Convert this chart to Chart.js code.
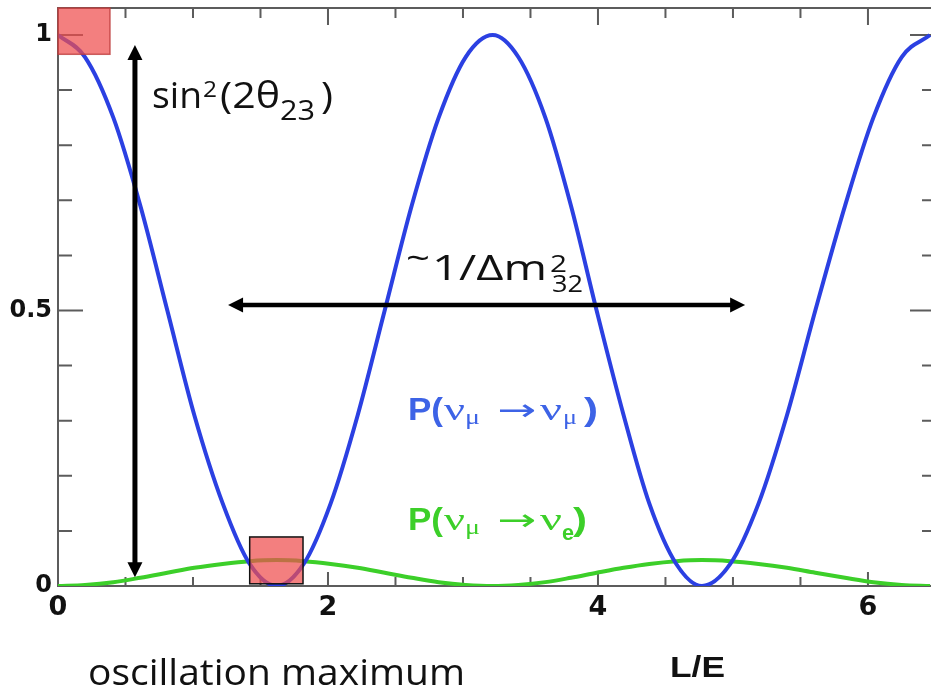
<!DOCTYPE html>
<html>
<head>
<meta charset="utf-8">
<script src="https://cdn.jsdelivr.net/npm/chart.js@4.4.1/dist/chart.umd.min.js"></script>
<style>
  html, body { margin: 0; padding: 0; background: #fff; }
</style>
</head>
<body>
<canvas id="grafica" width="931" height="690"></canvas>
<script>
// valores (L/E y probabilidades)
const lOverE = [0, 0.20, 0.41, 0.61, 0.81, 1.01, 1.22, 1.42, 1.62,
  1.82, 2.02, 2.22, 2.42, 2.62, 2.82, 3.02, 3.22,
  3.41, 3.61, 3.80, 3.99, 4.19, 4.38, 4.58, 4.77,
  4.98, 5.19, 5.40, 5.61, 5.83, 6.04, 6.25, 6.46];
const probMuMu = [1, 0.96, 0.85, 0.69, 0.50, 0.31, 0.15, 0.04, 0,
  0.04, 0.15, 0.31, 0.50, 0.69, 0.85, 0.96, 1,
  0.96, 0.85, 0.69, 0.50, 0.31, 0.15, 0.04, 0,
  0.04, 0.15, 0.31, 0.50, 0.69, 0.85, 0.96, 1];
const probMuE = [0, 0.002, 0.007, 0.015, 0.024, 0.033, 0.040, 0.045, 0.047,
  0.045, 0.040, 0.033, 0.024, 0.015, 0.007, 0.002, 0,
  0.002, 0.007, 0.015, 0.024, 0.033, 0.040, 0.045, 0.047,
  0.045, 0.040, 0.033, 0.024, 0.015, 0.007, 0.002, 0];
const xTickLabels = ['0', '2', '4', '6'];
const yTickLabels = ['0', '0.5', '1'];

const AZUL = '#2b40e2';
const VERDE = '#3ccf29';

function puntos(ys) {
  return lOverE.map((v, i) => ({ x: v, y: ys[i] }));
}

// dibuja un trozo de texto estirado al ancho que tiene en la figura
function pieza(ctx, t, fuente, x, y, ancho) {
  ctx.font = fuente;
  const w = ctx.measureText(t).width;
  ctx.save();
  ctx.translate(x, y);
  ctx.scale(ancho / w, 1);
  ctx.fillText(t, 0, 0);
  ctx.restore();
}

function punta(ctx, x, y, ang, largo, ancho) {
  ctx.save();
  ctx.translate(x, y);
  ctx.rotate(ang);
  ctx.beginPath();
  ctx.moveTo(0, 0);
  ctx.lineTo(-largo, -ancho / 2);
  ctx.lineTo(-largo, ancho / 2);
  ctx.closePath();
  ctx.fill();
  ctx.restore();
}

function flecha(ctx, x1, y1, x2, y2, grosor) {
  const ang = Math.atan2(y2 - y1, x2 - x1);
  const largo = 15, ancho = 15;
  ctx.lineWidth = grosor;
  ctx.beginPath();
  ctx.moveTo(x1 + Math.cos(ang) * (largo - 2), y1 + Math.sin(ang) * (largo - 2));
  ctx.lineTo(x2 - Math.cos(ang) * (largo - 2), y2 - Math.sin(ang) * (largo - 2));
  ctx.stroke();
  punta(ctx, x2, y2, ang, largo, ancho);
  punta(ctx, x1, y1, ang + Math.PI, largo, ancho);
}

const decoraciones = {
  id: 'decoraciones',
  beforeDatasetsDraw(chart) {
    const { ctx, chartArea: a, scales: { x, y } } = chart;
    ctx.save();
    ctx.strokeStyle = '#5c5c5c';
    ctx.lineWidth = 2;
    ctx.beginPath();
    ctx.moveTo(a.left, a.top);
    ctx.lineTo(a.right, a.top);
    ctx.stroke();
    // marcas hacia dentro
    ctx.beginPath();
    for (let i = 0; i <= 12; i++) {
      const px = x.getPixelForValue(i / 2);
      const mayor = i % 4 === 0;
      ctx.moveTo(px, a.bottom);
      ctx.lineTo(px, a.bottom - (mayor ? 14 : 9));
      ctx.moveTo(px, a.top);
      ctx.lineTo(px, a.top + (mayor ? 17 : 10));
    }
    for (let i = 0; i <= 10; i++) {
      const py = y.getPixelForValue(i / 10);
      const mayor = i % 5 === 0;
      ctx.moveTo(a.left, py);
      ctx.lineTo(a.left + (mayor ? 25 : 14), py);
      ctx.moveTo(a.right, py);
      ctx.lineTo(a.right - (mayor ? 21 : 9), py);
    }
    ctx.stroke();
    ctx.restore();
  },
  afterDatasetsDraw(chart) {
    const { ctx, scales: { x, y } } = chart;
    ctx.save();
    // recuadros rojos
    const caja = (x0, x1, y0, y1, borde) => {
      const l = x.getPixelForValue(x0), r = x.getPixelForValue(x1);
      const t = y.getPixelForValue(y1), b = y.getPixelForValue(y0);
      ctx.fillStyle = 'rgba(238, 78, 78, 0.72)';
      ctx.fillRect(l, t, r - l, b - t);
      ctx.strokeStyle = borde;
      ctx.lineWidth = 1.5;
      ctx.strokeRect(l, t, r - l, b - t);
    };
    caja(0, 0.385, 0.965, 1.049, 'rgba(190, 60, 60, 0.8)');
    caja(1.42, 1.815, 0.004, 0.089, '#111');

    // flechas
    ctx.fillStyle = '#000';
    ctx.strokeStyle = '#000';
    flecha(ctx, x.getPixelForValue(0.57), y.getPixelForValue(0.016),
      x.getPixelForValue(0.57), y.getPixelForValue(0.982), 5);
    flecha(ctx, x.getPixelForValue(1.26), y.getPixelForValue(0.51),
      x.getPixelForValue(5.09), y.getPixelForValue(0.51), 4.5);

    // textos
    ctx.textBaseline = 'alphabetic';
    ctx.fillStyle = '#111';
    const sans = '"Open Sans"';
    pieza(ctx, 'sin', '37px ' + sans, 152, 108, 50);
    pieza(ctx, '2', '22px ' + sans, 203, 97, 14);
    pieza(ctx, '(2\u03b8', '37px ' + sans, 220, 108, 60);
    pieza(ctx, '23', '27px ' + sans, 280, 120, 35);
    pieza(ctx, ')', '37px ' + sans, 321, 108, 12);

    pieza(ctx, '~', '35px ' + sans, 406, 270, 24);
    pieza(ctx, '1/\u0394m', '35px ' + sans, 432, 280, 115);
    pieza(ctx, '2', '24px ' + sans, 550, 272, 17);
    pieza(ctx, '32', '24px ' + sans, 552, 292, 31);

    const serif = '"Liberation Serif"';
    const bold = 'bold 31px "Liberation Sans"';
    const flechaTxt = '30px "DejaVu Sans"';
    ctx.fillStyle = '#3d63e6';
    pieza(ctx, 'P(', bold, 408, 420, 35);
    pieza(ctx, '\u03bd', '32px ' + serif, 444, 420, 21);
    pieza(ctx, '\u03bc', '22px ' + serif, 465, 424, 15);
    pieza(ctx, '\u2192', flechaTxt, 497, 420, 39);
    pieza(ctx, '\u03bd', '32px ' + serif, 540, 420, 22);
    pieza(ctx, '\u03bc', '22px ' + serif, 563, 424, 14);
    pieza(ctx, ')', bold, 584, 420, 14);

    ctx.fillStyle = VERDE;
    pieza(ctx, 'P(', bold, 408, 530, 35);
    pieza(ctx, '\u03bd', '32px ' + serif, 444, 530, 21);
    pieza(ctx, '\u03bc', '22px ' + serif, 465, 534, 15);
    pieza(ctx, '\u2192', flechaTxt, 497, 530, 39);
    pieza(ctx, '\u03bd', '32px ' + serif, 540, 530, 22);
    pieza(ctx, 'e', 'bold 22px "Liberation Sans"', 562, 540, 12);
    pieza(ctx, ')', bold, 573, 530, 14);

    ctx.fillStyle = '#111';
    pieza(ctx, 'oscillation maximum', '37px ' + sans, 88, 685, 377);
    pieza(ctx, 'L/E', 'bold 29px "Liberation Sans"', 670, 677, 55);
    ctx.restore();
  }
};

const cerca = (v, lista) => lista.some(t => Math.abs(v - parseFloat(t)) < 1e-6);

new Chart(document.getElementById('grafica'), {
  type: 'line',
  data: {
    datasets: [
      { label: 'P(\u03bd\u03bc\u2192\u03bd\u03bc)', data: puntos(probMuMu), borderColor: AZUL, borderWidth: 4,
        pointRadius: 0, cubicInterpolationMode: 'monotone', fill: false },
      { label: 'P(\u03bd\u03bc\u2192\u03bde)', data: puntos(probMuE), borderColor: VERDE, borderWidth: 4,
        pointRadius: 0, cubicInterpolationMode: 'monotone', fill: false }
    ]
  },
  options: {
    responsive: false,
    animation: false,
    layout: { padding: { top: 8, right: 0, bottom: 0, left: 0 } },
    plugins: { legend: { display: false }, tooltip: { enabled: false } },
    scales: {
      x: {
        type: 'linear', min: 0, max: 6.467,
        grid: { display: false, drawTicks: false },
        border: { display: true, color: '#5c5c5c', width: 2 },
        afterFit: s => { s.height = 104; s.paddingLeft = 0; s.paddingRight = 0; },
        afterBuildTicks: s => {
          s.ticks = [0, 0.5, 1, 1.5, 2, 2.5, 3, 3.5, 4, 4.5, 5, 5.5, 6].map(v => ({ value: v }));
        },
        ticks: {
          autoSkip: false, maxRotation: 0, padding: 6, color: '#111',
          font: { family: '"DejaVu Sans"', size: 27, weight: 'bold' },
          callback: v => (cerca(v, xTickLabels) ? String(v) : '')
        }
      },
      y: {
        type: 'linear', min: 0, max: 1.049,
        grid: { display: false, drawTicks: false },
        border: { display: true, color: '#5c5c5c', width: 2 },
        afterFit: s => { s.width = 58; s.paddingTop = 0; s.paddingBottom = 0; },
        afterBuildTicks: s => {
          s.ticks = [0, 0.5, 1].map(v => ({ value: v }));
        },
        ticks: {
          padding: 6, color: '#111',
          font: { family: '"DejaVu Sans"', size: 24, weight: 'bold' },
          callback: v => (cerca(v, yTickLabels) ? String(v) : '')
        }
      }
    }
  },
  plugins: [decoraciones]
});
</script>
</body>
</html>
